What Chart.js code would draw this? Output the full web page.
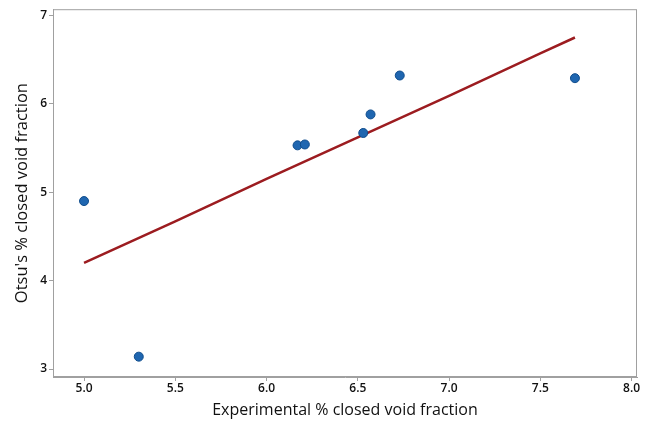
<!DOCTYPE html>
<html lang="en">
  <head>
    <meta charset="UTF-8" />
    <title>Closed void fraction</title>
    <script src="https://cdn.jsdelivr.net/npm/chart.js"></script>
    <style>
      body { margin: 0; background: #fff; }
      #wrap { width: 651px; height: 421px; }
    </style>
  </head>
  <body>
    <div id="wrap"><canvas id="grafico"></canvas></div>
  </body>
</html>

<script>
  // measured values (experimental vs Otsu)
  const experimental = [5.0, 5.3, 6.17, 6.21, 6.53, 6.57, 6.73, 7.69];
  const otsu = [4.9, 3.14, 5.53, 5.54, 5.67, 5.88, 6.32, 6.29];

  // fitted line
  const fitX = [5.0, 5.5, 6.0, 6.5, 7.0, 7.5, 7.69];
  const fitY = [4.2, 4.67, 5.15, 5.62, 6.09, 6.57, 6.75];

  const xTicks = [5.0, 5.5, 6.0, 6.5, 7.0, 7.5, 8.0];
  const yTicks = [3, 4, 5, 6, 7];

  const fonte = "'Open Sans', 'Noto Sans', sans-serif";

  // moldura em volta da area do grafico
  const moldura = {
    id: "moldura",
    afterDraw(chart) {
      const a = chart.chartArea;
      const ctx = chart.ctx;
      ctx.save();
      ctx.strokeStyle = "#a0a0a0";
      ctx.lineWidth = 1;
      ctx.strokeRect(a.left + 0.5, a.top + 0.5, a.right - a.left - 1, a.bottom - a.top - 1);
      ctx.restore();
    },
  };

  const config = {
    type: "scatter",
    data: {
      datasets: [
        {
          label: "fit",
          data: fitX.map((x, i) => ({ x: x, y: fitY[i] })),
          showLine: true,
          borderColor: "#9c1c20",
          borderWidth: 2.5,
          pointRadius: 0,
          tension: 0,
          order: 2,
        },
        {
          label: "dados",
          data: experimental.map((x, i) => ({ x: x, y: otsu[i] })),
          backgroundColor: "#1f66b0",
          borderColor: "#0f4c8c",
          borderWidth: 1,
          pointRadius: 4.5,
          order: 1,
        },
      ],
    },
    options: {
      responsive: false,
      animation: false,
      layout: { padding: { top: 8, right: 14, left: 0, bottom: 0 } },
      plugins: { legend: { display: false }, tooltip: { enabled: false } },
      scales: {
        x: {
          type: "linear",
          min: 4.83,
          max: 8.03,
          afterBuildTicks: (axis) => { axis.ticks = xTicks.map((v) => ({ value: v })); },
          afterFit: (axis) => { axis.height = 44; },
          grid: { drawOnChartArea: false, tickLength: 4, color: "#a0a0a0" },
          border: { color: "#a0a0a0" },
          ticks: {
            padding: 0,
            color: "#111",
            font: { family: fonte, size: 12, weight: "600" },
            callback: (v) => v.toFixed(1),
          },
          title: {
            display: true,
            text: "Experimental % closed void fraction",
            color: "#111",
            font: { family: fonte, size: 16 },
            padding: { top: 0, bottom: 1 },
          },
        },
        y: {
          type: "linear",
          min: 2.91,
          max: 7.07,
          afterBuildTicks: (axis) => { axis.ticks = yTicks.map((v) => ({ value: v })); },
          afterFit: (axis) => { axis.width = 53; },
          grid: { drawOnChartArea: false, tickLength: 4, color: "#a0a0a0" },
          border: { color: "#a0a0a0" },
          ticks: {
            padding: 2,
            color: "#111",
            font: { family: fonte, size: 12, weight: "600" },
          },
          title: {
            display: true,
            text: "Otsu's % closed void fraction",
            color: "#111",
            font: { family: fonte, size: 16.5 },
            padding: { top: 12, bottom: 0 },
          },
        },
      },
    },
    plugins: [moldura],
  };

  const canvas = document.getElementById("grafico");
  canvas.width = 651;
  canvas.height = 421;
  new Chart(canvas, config);
</script>
